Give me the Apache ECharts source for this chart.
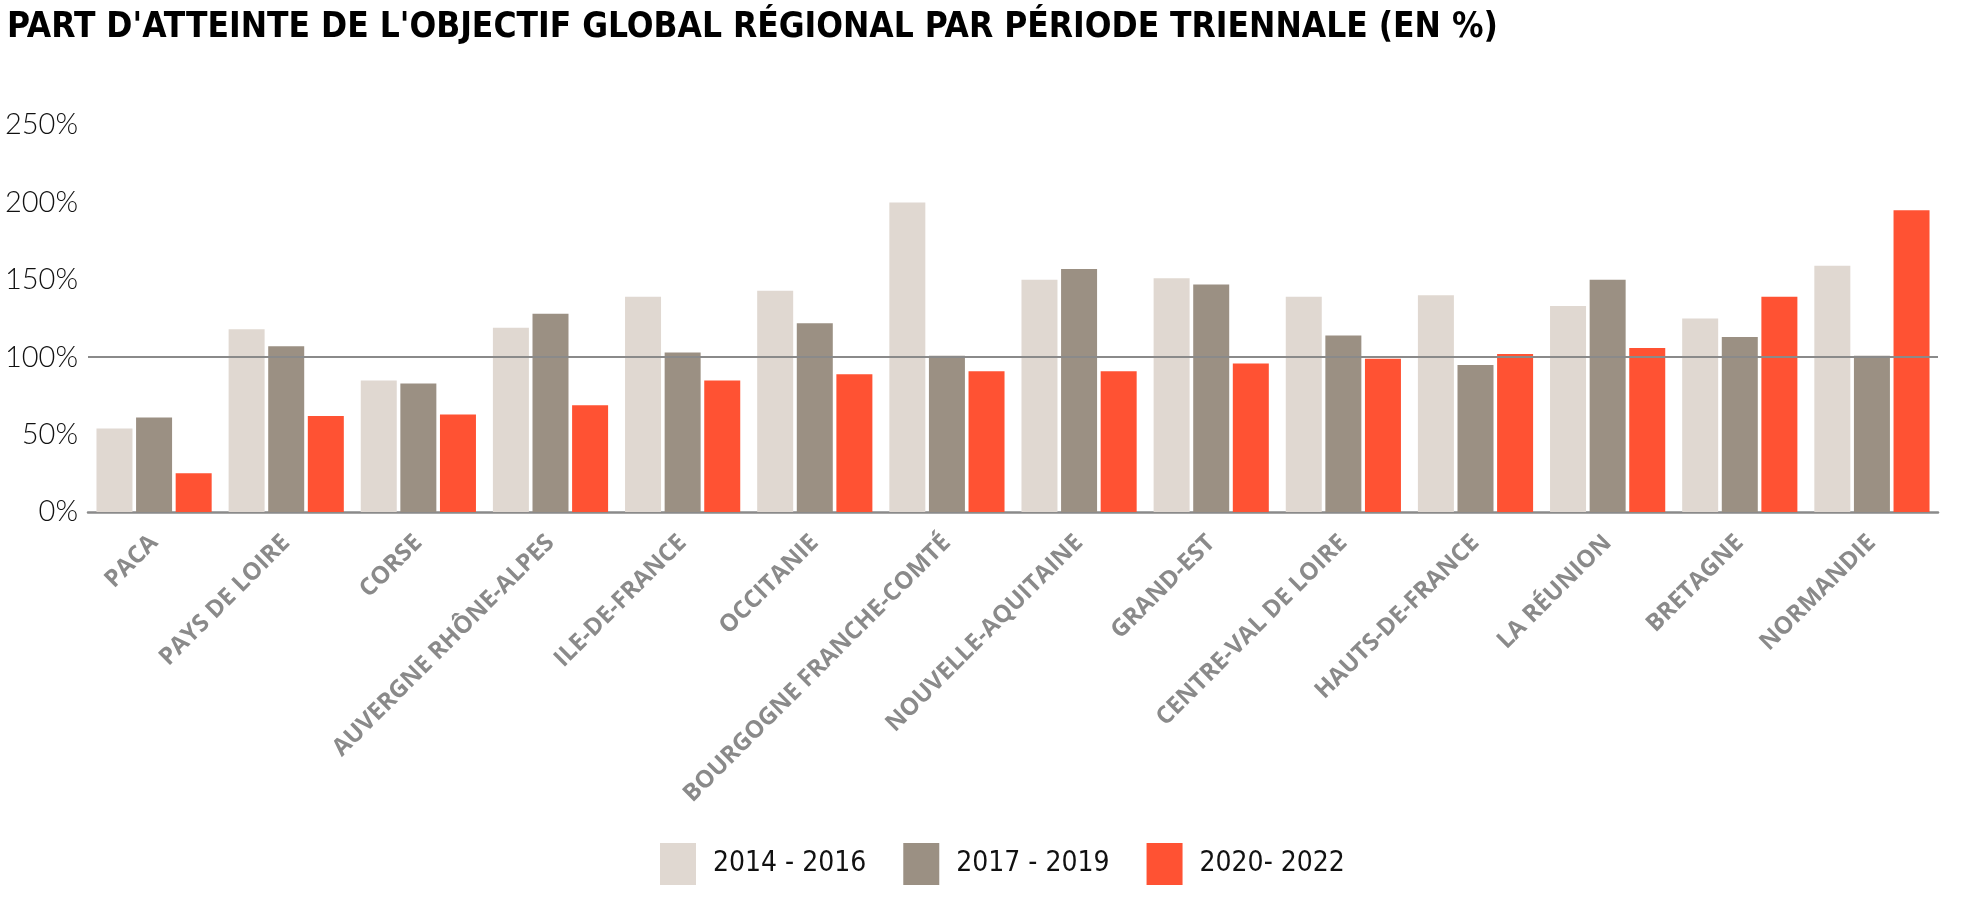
<!DOCTYPE html>
<html>
<head>
<meta charset="utf-8">
<script src="https://cdn.jsdelivr.net/npm/echarts@6/dist/echarts.min.js"></script>
<style>
html,body{margin:0;padding:0;background:#fff;}
#chart{width:1963px;height:915px;}
</style>
</head>
<body>
<div id="chart"></div>
<script>
const categories = ['PACA','PAYS DE LOIRE','CORSE','AUVERGNE RHÔNE-ALPES','ILE-DE-FRANCE','OCCITANIE','BOURGOGNE FRANCHE-COMTÉ','NOUVELLE-AQUITAINE','GRAND-EST','CENTRE-VAL DE LOIRE','HAUTS-DE-FRANCE','LA RÉUNION','BRETAGNE','NORMANDIE'];
const s2014 = [54, 118, 85, 119, 139, 143, 200, 150, 151, 139, 140, 133, 125, 159];
const s2017 = [61, 107, 83, 128, 103, 122, 101, 157, 147, 114, 95, 150, 113, 101];
const s2020 = [25, 62, 63, 69, 85, 89, 91, 91, 96, 99, 102, 106, 139, 195];
const seriesNames = ['2014 - 2016', '2017 - 2019', '2020- 2022'];
const yTicks = [0, 50, 100, 150, 200, 250];

const colors = ['#E0D8D1', '#9B9083', '#FF5233'];
const chart = echarts.init(document.getElementById('chart'));
const mk = (name, data, i) => ({
  name, type: 'bar', data, barWidth: 36, barGap: '10%',
  itemStyle: { color: colors[i] },
  animation: false,
  markLine: i === 0 ? {
    silent: true, symbol: 'none', label: { show: false },
    lineStyle: { color: '#8a8a8a', width: 2, type: 'solid' },
    data: [{ yAxis: 100 }]
  } : undefined
});
chart.setOption({
  animation: false,
  title: {
    text: "PART D'ATTEINTE DE L'OBJECTIF GLOBAL RÉGIONAL PAR PÉRIODE TRIENNALE (EN %)",
    left: 2, top: 5,
    textStyle: { fontFamily: "'DejaVu Sans Condensed', sans-serif", fontWeight: 'bold', fontSize: 35, color: '#000' }
  },
  legend: {
    left: 655, top: 838,
    itemWidth: 36, itemHeight: 42, itemGap: 37,
    icon: 'rect',
    data: seriesNames,
    textStyle: { fontFamily: "'DejaVu Sans Condensed', sans-serif", fontSize: 28, color: '#111', padding: [0, 0, 0, 12] }
  },
  grid: { left: 88, right: 25, top: 125, bottom: 403 },
  xAxis: {
    type: 'category', data: categories,
    axisLine: { lineStyle: { color: '#8a8a8a', width: 2.5 } },
    axisTick: { show: false },
    axisLabel: { interval: 0, rotate: 45, margin: 27, color: '#8a8a8a', fontFamily: 'Open Sans', fontWeight: 'bold', fontSize: 24 }
  },
  yAxis: {
    type: 'value', min: yTicks[0], max: yTicks[yTicks.length - 1], interval: 50,
    axisLine: { show: false }, axisTick: { show: false },
    splitLine: { show: false },
    axisLabel: { formatter: '{value}%', margin: 10, color: '#111', fontFamily: 'Lato', fontWeight: 300, fontSize: 29 }
  },
  series: [mk(seriesNames[0], s2014, 0), mk(seriesNames[1], s2017, 1), mk(seriesNames[2], s2020, 2)]
});
</script>
</body>
</html>
